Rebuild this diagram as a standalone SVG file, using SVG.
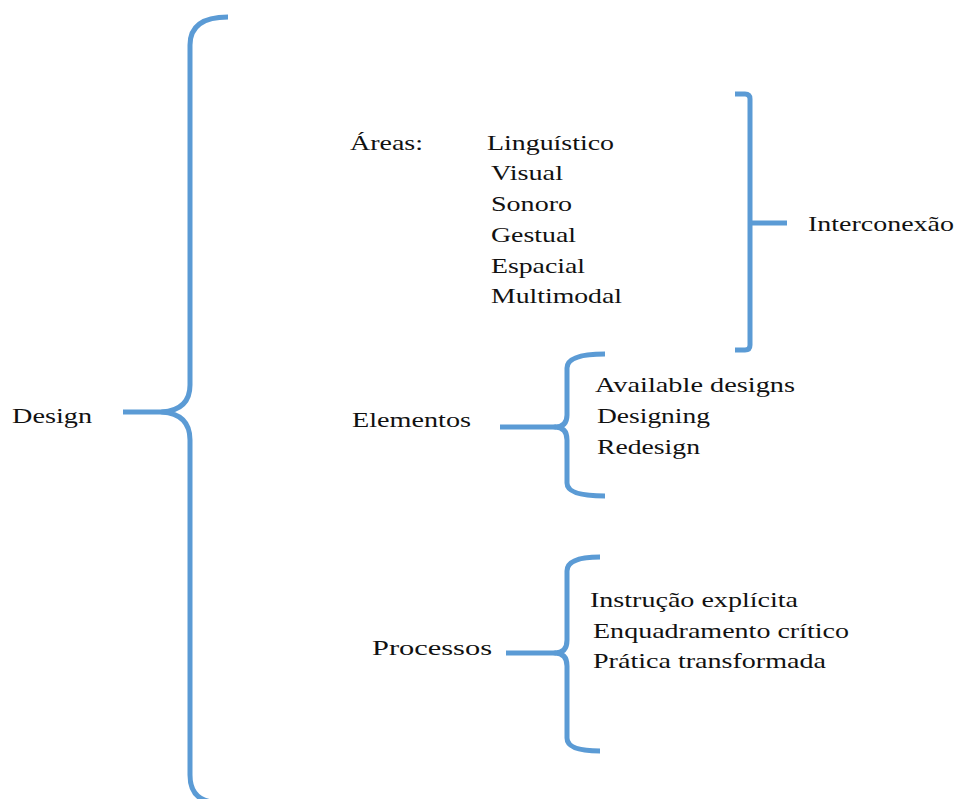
<svg xmlns="http://www.w3.org/2000/svg" width="956" height="799" viewBox="0 0 956 799">
<style>
.br{fill:none;stroke:#5B9BD5;stroke-width:5;stroke-linecap:butt;stroke-linejoin:round}
text{font-family:"Liberation Serif","Times New Roman",serif;font-size:22px;fill:#111}
</style>
<rect width="956" height="799" fill="#fff"/>
<g id="connectors">
<path class="br" d="M228,17 Q190,17 190,45 L190,385 Q190,410 162,412 Q190,414 190,440 L190,775 Q190,799 212,802"/>
<path class="br" d="M123,412 L166,412"/>
<path class="br" d="M735,94 L745,94 Q750,94 750,99 L750,345 Q750,350 745,350 L735,350"/>
<path class="br" d="M750,223 L787,223"/>
<path class="br" d="M605,354 Q567,354 567,368 L567,415 Q567,427 555,427 Q567,427 567,440 L567,483 Q567,496 605,496"/>
<path class="br" d="M500,427 L556,427"/>
<path class="br" d="M600,557 Q567,557 567,571 L567,640 Q567,653 555,653 Q567,653 567,666 L567,738 Q567,751 600,751"/>
<path class="br" d="M506,653 L556,653"/>
</g>
<g id="design"><text x="12" y="423" textLength="80" lengthAdjust="spacingAndGlyphs">Design</text></g>
<g id="areas">
<text x="350" y="150" textLength="73" lengthAdjust="spacingAndGlyphs">Áreas:</text>
<text x="487" y="150" textLength="127" lengthAdjust="spacingAndGlyphs">Linguístico</text>
<text x="491" y="180" textLength="72" lengthAdjust="spacingAndGlyphs">Visual</text>
<text x="491" y="211" textLength="81" lengthAdjust="spacingAndGlyphs">Sonoro</text>
<text x="491" y="242" textLength="85" lengthAdjust="spacingAndGlyphs">Gestual</text>
<text x="491" y="273" textLength="94" lengthAdjust="spacingAndGlyphs">Espacial</text>
<text x="491" y="303" textLength="131" lengthAdjust="spacingAndGlyphs">Multimodal</text>
</g>
<g id="interconexao"><text x="808" y="231" textLength="146" lengthAdjust="spacingAndGlyphs">Interconexão</text></g>
<g id="elementos">
<text x="352" y="427" textLength="119" lengthAdjust="spacingAndGlyphs">Elementos</text>
<text x="595" y="392" textLength="200" lengthAdjust="spacingAndGlyphs">Available designs</text>
<text x="597" y="423" textLength="113" lengthAdjust="spacingAndGlyphs">Designing</text>
<text x="597" y="454" textLength="103" lengthAdjust="spacingAndGlyphs">Redesign</text>
</g>
<g id="processos">
<text x="372" y="655" textLength="120" lengthAdjust="spacingAndGlyphs">Processos</text>
<text x="590" y="607" textLength="208" lengthAdjust="spacingAndGlyphs">Instrução explícita</text>
<text x="593" y="638" textLength="256" lengthAdjust="spacingAndGlyphs">Enquadramento crítico</text>
<text x="593" y="668" textLength="233" lengthAdjust="spacingAndGlyphs">Prática transformada</text>
</g>
</svg>
